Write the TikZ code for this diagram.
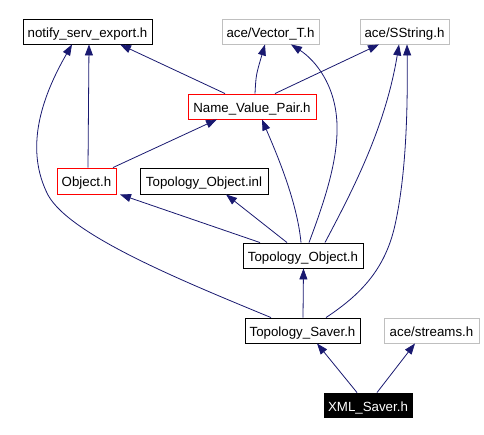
\documentclass[tikz,border=0pt]{standalone}
\usepackage{fontspec}
\setmainfont{Liberation Sans}
\usetikzlibrary{arrows.meta}
\definecolor{edgeblue}{RGB}{25,25,112}
\definecolor{graybox}{RGB}{191,191,191}
\begin{document}
\begin{tikzpicture}[x=1pt,y=-1pt,
  box/.style={draw=black,rectangle,inner sep=0pt,minimum height=25pt,font=\fontsize{13.3}{15}\selectfont,text height=12pt,text depth=-4pt,line width=0.9pt},
  redbox/.style={box,draw=red},
  graybx/.style={box,draw=graybox},
  blackbox/.style={box,fill=black,text=white},
  dep/.style={draw=edgeblue,line width=0.8pt,-{Triangle[length=11pt,width=8pt]}}]
\useasboundingbox (0,0) rectangle (484,435);
\node[box,minimum width=129pt] (notify) at (87.5,31.5) {notify\_serv\_export.h};
\node[graybx,minimum width=97pt] (vt) at (270.5,31.5) {ace/Vector\_T.h};
\node[graybx,minimum width=89pt] (ss) at (404.5,31.5) {ace/SString.h};
\node[redbox,minimum width=128pt] (nvp) at (252,106.5) {Name\_Value\_Pair.h};
\node[redbox,minimum width=59pt,minimum height=26pt] (obj) at (86.5,181) {Object.h};
\node[box,minimum width=128pt,minimum height=26pt] (inl) at (204,181) {Topology\_Object.inl};
\node[box,minimum width=120pt] (to) at (303,255.5) {Topology\_Object.h};
\node[box,minimum width=115pt] (ts) at (302.5,330.5) {Topology\_Saver.h};
\node[graybx,minimum width=95pt] (st) at (431.5,330.5) {ace/streams.h};
\node[blackbox,minimum width=88pt,minimum height=24pt] (xml) at (368,405) {XML\_Saver.h};

\draw[dep] ([xshift=1.5pt]obj.north) -- ([xshift=1.5pt]notify.south);
\draw[dep] ([xshift=-27pt]nvp.north) -- ([xshift=32.5pt]notify.south);
\draw[dep] ([xshift=3pt]nvp.north) .. controls (256,75) .. ([xshift=-5.5pt]vt.south);
\draw[dep] ([xshift=23pt]nvp.north) -- ([xshift=-25.5pt]ss.south);
\draw[dep] ([xshift=26.5pt]obj.north) -- ([xshift=-35pt]nvp.south);
\draw[dep] ([xshift=-43pt]to.north) -- ([xshift=33.5pt]obj.south);
\draw[dep] ([xshift=-16pt]to.north) -- ([xshift=22pt]inl.south);
\draw[dep] ([xshift=-2pt]to.north) .. controls (297,200) and (275,150) .. ([xshift=10pt]nvp.south);
\draw[dep] ([xshift=6pt]to.north) .. controls (325,200) and (338,160) .. (337,125) .. controls (336,85) and (315,60) .. ([xshift=20.5pt]vt.south);
\draw[dep] ([xshift=22pt]to.north) .. controls (350,195) and (385,130) .. ([xshift=-5.5pt]ss.south);
\draw[dep] ([xshift=-31.5pt]ts.north) .. controls (180,280) and (70,235) .. (48,195) .. controls (25,150) and (40,100) .. ([xshift=-15.5pt]notify.south);
\draw[dep] ([xshift=0.5pt]ts.north) -- ([xshift=0.5pt]to.south);
\draw[dep] ([xshift=23.5pt]ts.north) .. controls (360,295) and (385,270) .. (395,225) .. controls (405,180) and (408,120) .. ([xshift=2.5pt]ss.south);
\draw[dep] ([xshift=-11pt]xml.north) -- ([xshift=14.5pt]ts.south);
\draw[dep] ([xshift=9pt]xml.north) -- ([xshift=-16.5pt]st.south);
\end{tikzpicture}
\end{document}
